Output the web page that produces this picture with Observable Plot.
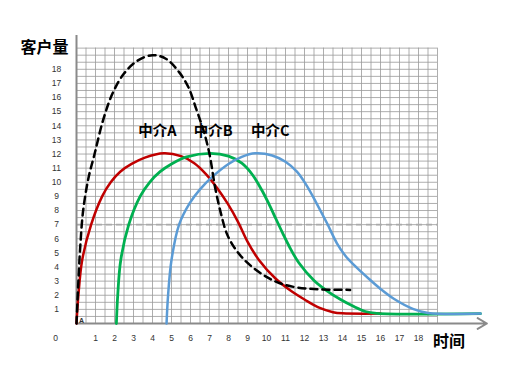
<!DOCTYPE html>
<html>
<head>
<meta charset="utf-8">
<script src="https://cdn.jsdelivr.net/npm/d3@7"></script>
<script src="https://cdn.jsdelivr.net/npm/@observablehq/plot@0.6"></script>
<style>
  html, body { margin: 0; padding: 0; background: #fff; }
</style>
</head>
<body>
<div id="chart"></div>
<script>
// ---- data ----
const xTicks = [1,2,3,4,5,6,7,8,9,10,11,12,13,14,15,16,17,18];
const yTicks = [1,2,3,4,5,6,7,8,9,10,11,12,13,14,15,16,17,18];
const brokerNames = ["中介A", "中介B", "中介C"];
const brokerLabelX = [4.26, 7.2, 10.2];
const brokerLabelY = [13.6, 13.6, 13.6];
const yAxisTitle = "客户量";
const xAxisTitle = "时间";
const thresholdY = 7;

// 中介A (red)
const seriesA = [
  [0,0],[0.1,2],[0.3,4.5],[0.77,7],[1.35,9],[1.8,10],[2.3,10.75],[2.9,11.3],
  [3.6,11.75],[4.6,12.05],[5.5,11.85],[6.2,11.35],[6.8,10.6],[7.4,9.6],[7.95,8.5],
  [8.5,7.2],[9.0,5.8],[9.6,4.5],[10.5,3.15],[11.3,2.3],[12.0,1.7],[12.8,1.1],
  [13.5,0.8],[14.0,0.72],[16.0,0.7]
];
// 中介B (green)
const seriesB = [
  [2.1,0],[2.17,2],[2.33,4.5],[2.75,7],[3.35,9],[3.85,10],[4.4,10.75],[5.0,11.3],
  [5.8,11.8],[7.05,12.05],[8.0,11.85],[8.7,11.35],[9.25,10.55],[9.75,9.45],[10.15,8.4],
  [10.5,7.4],[10.85,6.4],[11.2,5.45],[11.7,4.3],[12.5,3.05],[13.2,2.3],[13.9,1.7],
  [14.6,1.2],[15.2,0.85],[15.8,0.72],[21.26,0.7]
];
// 中介C (blue)
const seriesC = [
  [4.74,0],[4.82,2],[5.0,4.5],[5.4,7],[5.95,8.5],[6.5,9.5],[7.2,10.45],[8.0,11.3],
  [8.7,11.8],[9.4,12.05],[10.3,11.9],[11.0,11.45],[11.6,10.75],[12.1,9.8],[12.6,8.6],
  [13.2,7.06],[13.7,5.7],[14.15,4.8],[14.6,4.15],[15.4,3.15],[16.0,2.45],[16.7,1.75],
  [17.7,1.04],[18.5,0.75],[21.26,0.7]
];
// total (black dashed)
const seriesTotal = [
  [0,0],[0.1,3],[0.2,5.5],[0.35,8],[0.63,10.3],[0.95,12],[1.4,14.4],[1.9,16.3],
  [2.5,17.7],[3.2,18.6],[4.0,19.0],[4.7,18.75],[5.4,17.8],[5.9,16.7],[6.3,15.2],
  [6.7,13.6],[7.0,12.0],[7.3,9.6],[7.6,7.8],[7.9,6.4],[8.25,5.5],[8.7,4.7],
  [9.25,4.0],[10.0,3.3],[10.7,2.85],[11.6,2.55],[12.8,2.42],[14.4,2.38]
];

// grid extent
const gridXMax = 19, gridYMax = 19.5, gridStep = 0.5;
const gridX = d3.range(gridStep, gridXMax + 1e-9, gridStep);
const gridY = d3.range(gridStep, gridYMax + 1e-9, gridStep);

const latin = "'Liberation Sans', Arial, sans-serif";
const cjk = "'Noto Sans CJK SC', 'Liberation Sans', sans-serif";

const chart = Plot.plot({
  width: 515,
  height: 369,
  marginLeft: 76,
  marginRight: 11.5,
  marginTop: 33.5,
  marginBottom: 46,
  x: {domain: [0, 22.5], axis: null},
  y: {domain: [0, 20.5], axis: null},
  style: {background: "#fff", fontFamily: latin},
  marks: [
    Plot.ruleX(gridX, {y1: 0, y2: gridYMax, stroke: "#9a9a9a", strokeWidth: 1, strokeOpacity: 0.8}),
    Plot.ruleY(gridY, {x1: 0, x2: gridXMax, stroke: "#9a9a9a", strokeWidth: 1, strokeOpacity: 0.8}),
    Plot.ruleY([thresholdY], {x1: 0, x2: gridXMax, stroke: "#aaaaaa", strokeWidth: 1.6, strokeDasharray: "6,4"}),
    Plot.ruleX([0], {y1: 0, y2: 20.4, stroke: "#8a8a8a", strokeWidth: 2}),
    Plot.arrow([{x1: 0, y1: 0, x2: 21.6, y2: 0}], {x1: "x1", y1: "y1", x2: "x2", y2: "y2", stroke: "#8a8a8a", strokeWidth: 2, headLength: 8, bend: 0}),
    Plot.line(seriesA, {x: d => d[0], y: d => d[1], stroke: "#c00000", strokeWidth: 2.5, curve: "catmull-rom"}),
    Plot.line(seriesB, {x: d => d[0], y: d => d[1], stroke: "#00b050", strokeWidth: 2.8, curve: "catmull-rom"}),
    Plot.line(seriesC, {x: d => d[0], y: d => d[1], stroke: "#5b9bd5", strokeWidth: 2.5, curve: "catmull-rom"}),
    Plot.line(seriesTotal, {x: d => d[0], y: d => d[1], stroke: "#000", strokeWidth: 2.5, strokeDasharray: "7,5", curve: "catmull-rom"}),
    Plot.text(yTicks, {x: 0, y: d => d, text: d => String(d), dx: -20, textAnchor: "middle", fontSize: 8.5, fill: "#333"}),
    Plot.text(xTicks, {x: d => d, y: 0, text: d => String(d), dy: 15, textAnchor: "middle", fontSize: 8.5, fill: "#333"}),
    Plot.text([0], {x: 0, y: 0, text: d => String(d), dx: -21, dy: 15, textAnchor: "middle", fontSize: 8.5, fill: "#333"}),
    Plot.text(["A"], {x: 0, y: 0, text: d => d, dx: 5, dy: -3, textAnchor: "middle", fontSize: 7, fontWeight: "bold", fill: "#333"}),
    Plot.text(brokerNames, {x: (d, i) => brokerLabelX[i], y: (d, i) => brokerLabelY[i], text: d => d, fontSize: 14.5, fontWeight: "bold", fontFamily: cjk, fill: "#000", textAnchor: "middle"}),
    Plot.text([yAxisTitle], {x: 0, y: 19.55, text: d => d, dx: -32, fontSize: 16, fontWeight: "bold", fontFamily: cjk, fill: "#000", textAnchor: "middle"}),
    Plot.text([xAxisTitle], {x: 19.6, y: 0, text: d => d, dy: 18, fontSize: 16, fontWeight: "bold", fontFamily: cjk, fill: "#000", textAnchor: "middle"})
  ]
});
document.getElementById("chart").appendChild(chart);
</script>
</body>
</html>
